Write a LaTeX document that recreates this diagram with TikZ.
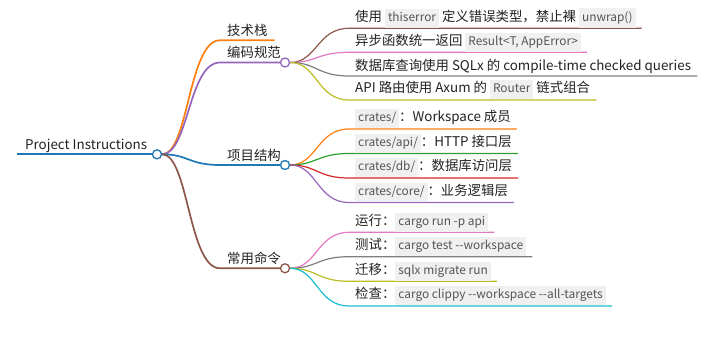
\documentclass[tikz,border=0pt]{standalone}
\usepackage{fontspec}
\setmainfont{Noto Sans CJK SC}
\usetikzlibrary{calc,backgrounds}
\definecolor{mmblue}{HTML}{1F77B4}
\definecolor{mmorange}{HTML}{FF7F0E}
\definecolor{mmgreen}{HTML}{2CA02C}
\definecolor{mmred}{HTML}{D62728}
\definecolor{mmpurple}{HTML}{9467BD}
\definecolor{mmbrown}{HTML}{8C564B}
\definecolor{mmpink}{HTML}{E377C2}
\definecolor{mmgray}{HTML}{7F7F7F}
\definecolor{mmolive}{HTML}{BCBD22}
\definecolor{mmcyan}{HTML}{17BECF}
\definecolor{textfg}{HTML}{222222}
\definecolor{codebg}{HTML}{F0F0F0}
\definecolor{codefg}{HTML}{555555}
\newcommand\inlinecode[1]{{\setlength{\fboxsep}{3pt}\colorbox{codebg}{\fontsize{11.9}{13}\selectfont\color{codefg}\rule[-3.5pt]{0pt}{13pt}#1}}}

\begin{document}
\begin{tikzpicture}[x=1pt,y=-1pt,font=\fontsize{13.4}{16}\selectfont,
		item/.style={anchor=south west,inner xsep=6pt,inner ysep=7pt,text depth=0pt,text=textfg},
		topic/.style={item,inner xsep=7pt,inner ysep=4.5pt},
		dot/.style={circle,draw,fill=white,line width=1.3pt,minimum size=9pt,inner sep=0pt},
		link/.style={to path={let \p1=(\tikztostart),\p2=(\tikztotarget) in .. controls ({(\x1+\x2)/2},\y1) and ({(\x1+\x2)/2},\y2) .. (\tikztotarget)}},
		trunk/.style={line width=2pt},
		branch/.style={line width=1.7pt},
		twig/.style={line width=1.2pt}]
	\useasboundingbox (0,0) rectangle (710,347);
	% root
	\node[topic,inner xsep=8pt,inner ysep=4.3pt] (root) at (17,154.3) {Project Instructions};
	\node[dot,draw=mmblue] (rootdot) at (157,154.3) {};
	% first level
	\node[topic] (stack) at (220,40.3) {技术栈};
	\node[topic] (spec) at (220,62.5) {编码规范};
	\node[dot,draw=mmpurple] (specdot) at (285,62.5) {};
	\node[topic] (layout) at (220,165) {项目结构};
	\node[dot,draw=mmblue] (layoutdot) at (285,165) {};
	\node[topic] (cmd) at (220,268.3) {常用命令};
	\node[dot,draw=mmbrown] (cmddot) at (285,268.3) {};
	% coding rules
	\node[item] (spec1) at (349,28.3) {使用 \inlinecode{thiserror} 定义错误类型，禁止裸 \inlinecode{unwrap()}};
	\node[item] (spec2) at (349,52.3) {异步函数统一返回 \inlinecode{Result<T, AppError>}};
	\node[item,inner ysep=5pt] (spec3) at (349,76) {数据库查询使用 SQLx 的 compile-time checked queries};
	\node[item] (spec4) at (349,100) {API 路由使用 Axum 的 \inlinecode{Router} 链式组合};
	% project layout
	\node[item] (crate1) at (349,129) {\inlinecode{crates/}：Workspace 成员};
	\node[item] (crate2) at (349,153.5) {\inlinecode{crates/api/}：HTTP 接口层};
	\node[item] (crate3) at (349,178) {\inlinecode{crates/db/}：数据库访问层};
	\node[item] (crate4) at (349,202.5) {\inlinecode{crates/core/}：业务逻辑层};
	% commands
	\node[item] (cmd1) at (349,232.3) {运行：\inlinecode{cargo run -p api}};
	\node[item] (cmd2) at (349,256.7) {测试：\inlinecode{cargo test -{}-workspace}};
	\node[item] (cmd3) at (349,281.3) {迁移：\inlinecode{sqlx migrate run}};
	\node[item] (cmd4) at (349,306) {检查：\inlinecode{cargo clippy -{}-workspace -{}-all-targets}};
	\begin{pgfonlayer}{background}
		\draw[mmblue,trunk] (root.south west) -- (rootdot);
		\draw[mmorange,branch] (rootdot) to[link] (stack.south west) -- (stack.south east);
		\draw[mmpurple,branch] (rootdot) to[link] (spec.south west) -- (specdot);
		\draw[mmblue,branch] (rootdot) to[link] (layout.south west) -- (layoutdot);
		\draw[mmbrown,branch] (rootdot) to[link] (cmd.south west) -- (cmddot);
		\draw[mmbrown,twig] (specdot) to[link] (spec1.south west) -- (spec1.south east);
		\draw[mmpink,twig] (specdot) to[link] (spec2.south west) -- (spec2.south east);
		\draw[mmgray,twig] (specdot) to[link] (spec3.south west) -- (spec3.south east);
		\draw[mmolive,twig] (specdot) to[link] (spec4.south west) -- (spec4.south east);
		\draw[mmorange,twig] (layoutdot) to[link] (crate1.south west) -- (crate1.south east);
		\draw[mmgreen,twig] (layoutdot) to[link] (crate2.south west) -- (crate2.south east);
		\draw[mmred,twig] (layoutdot) to[link] (crate3.south west) -- (crate3.south east);
		\draw[mmpurple,twig] (layoutdot) to[link] (crate4.south west) -- (crate4.south east);
		\draw[mmpink,twig] (cmddot) to[link] (cmd1.south west) -- (cmd1.south east);
		\draw[mmgray,twig] (cmddot) to[link] (cmd2.south west) -- (cmd2.south east);
		\draw[mmolive,twig] (cmddot) to[link] (cmd3.south west) -- (cmd3.south east);
		\draw[mmcyan,twig] (cmddot) to[link] (cmd4.south west) -- (cmd4.south east);
	\end{pgfonlayer}
\end{tikzpicture}
\end{document}
